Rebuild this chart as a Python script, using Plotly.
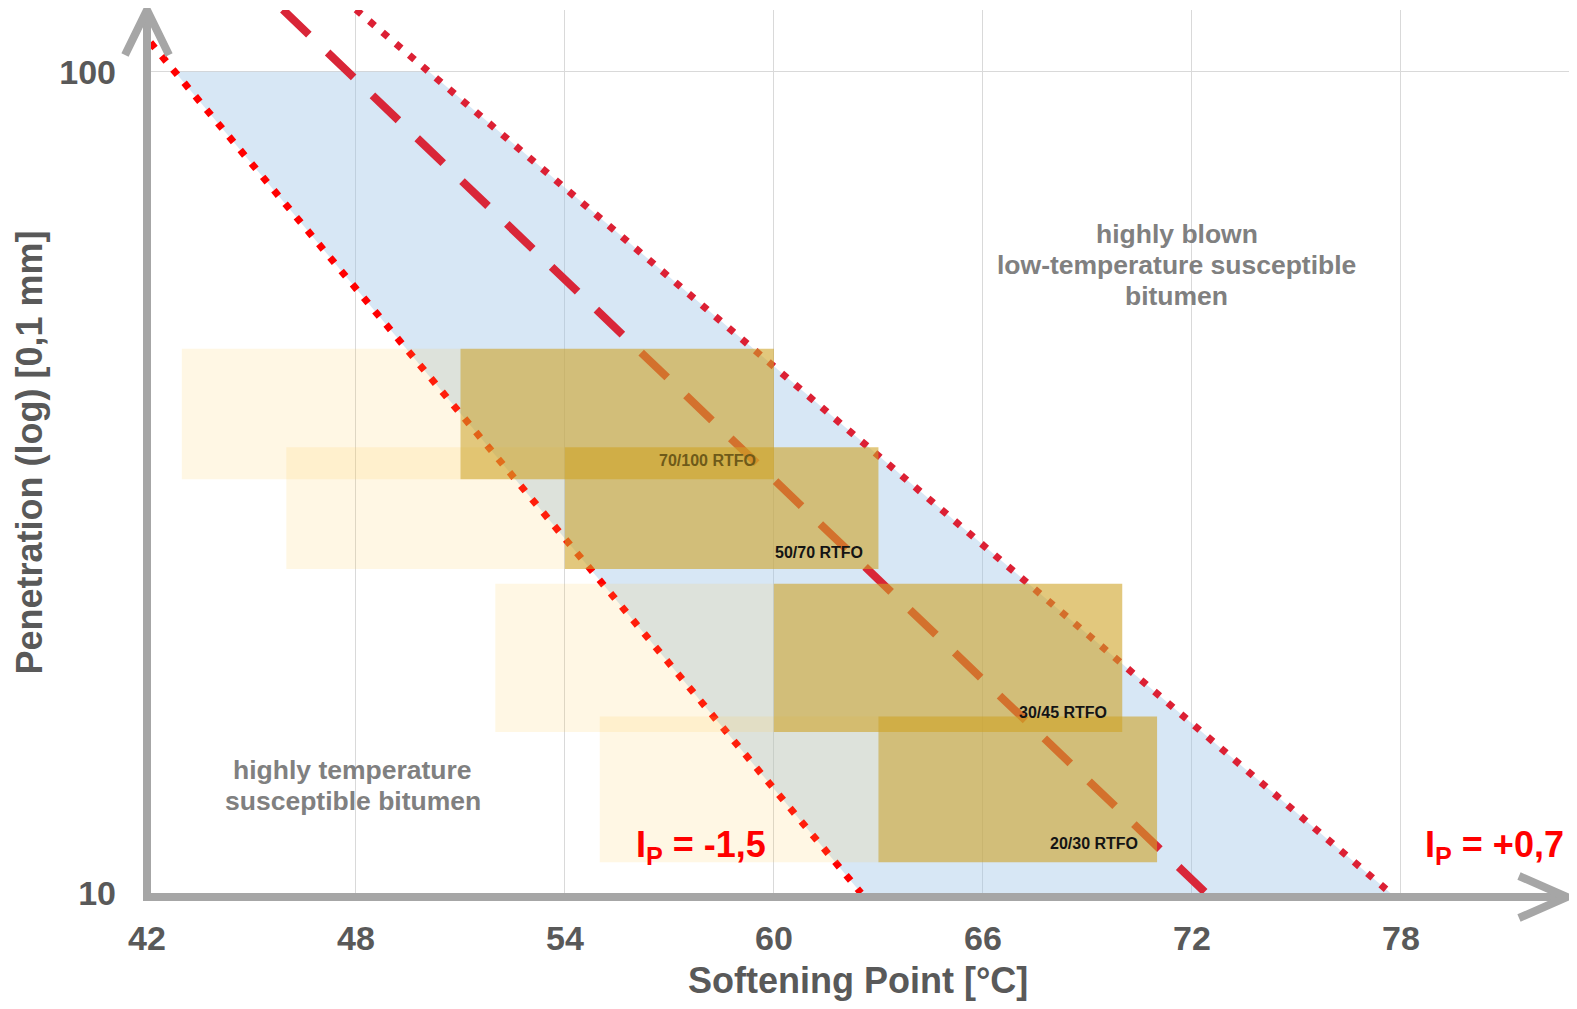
import math
import plotly.graph_objects as go

# ---------------- data ----------------
sp_ticks = [42, 48, 54, 60, 66, 72, 78]
pen_ticks = [10, 100]
pen_ticktext = ["10", "100"]

# penetration index lines (softening point, penetration)
ip_neg_sp = [42.1, 62.5]
ip_neg_pen = [108.5, 10]
ip_pos_sp = [48.0, 77.7]
ip_pos_pen = [119, 10]
mid_sp = [45.9, 72.4]
mid_pen = [119, 10]

# shaded zone between the two IP lines
zone_sp = [42.8, 50.1, 77.7, 62.5]
zone_pen = [100, 100, 10, 10]

# grade boxes
grades = ["70/100 RTFO", "50/70 RTFO", "30/45 RTFO", "20/30 RTFO"]
fresh_sp_min = [43, 46, 52, 55]
fresh_sp_max = [51, 54, 60, 63]
rtfo_sp_min = [51, 54, 60, 63]
rtfo_sp_max = [60, 63, 70, 71]
pen_min = [31.9, 24.8, 15.7, 10.9]
pen_max = [46.0, 34.9, 23.8, 16.4]
label_sp = [58.1, 61.3, 68.3, 69.2]
label_pen = [33.6, 26.0, 16.6, 11.5]
label_colors = ["#6E5A19", "#141414", "#141414", "#141414"]

# region texts
blown_lines = ["highly blown", "low-temperature susceptible", "bitumen"]
blown_sp = 71.57
blown_logpen = [1.802, 1.7646, 1.727]
susc_lines = ["highly temperature", "susceptible bitumen"]
susc_sp = 47.91
susc_logpen = [1.1495, 1.1115]

# ---------------- styles ----------------
FONT = "Arial, Liberation Sans, sans-serif"
GRAY_TXT = "#595959"
AXIS_GRAY = "#A6A6A6"
BLUE = "rgba(155,194,230,0.4)"
PALE = "rgba(255,202,75,0.15)"
GOLD = "rgba(207,163,38,0.6)"


def rect(x0, x1, y0, y1):
    return [x0, x1, x1, x0, x0], [y0, y0, y1, y1, y0]


fig = go.Figure()

# blue zone
fig.add_trace(go.Scatter(x=zone_sp + [zone_sp[0]], y=zone_pen + [zone_pen[0]],
                         fill="toself", fillcolor=BLUE, mode="lines",
                         line=dict(width=0, color=BLUE), hoverinfo="skip"))

# lines
fig.add_trace(go.Scatter(x=ip_neg_sp, y=ip_neg_pen, mode="lines",
                         line=dict(color="#FF0000", width=7, dash="7px,10.5px")))
fig.add_trace(go.Scatter(x=ip_pos_sp, y=ip_pos_pen, mode="lines",
                         line=dict(color="#DC2034", width=7, dash="7px,10.5px")))
fig.add_trace(go.Scatter(x=mid_sp, y=mid_pen, mode="lines",
                         line=dict(color="#D92638", width=8, dash="36px,26px")))

# pale (fresh) boxes
for i in range(4):
    xs, ys = rect(fresh_sp_min[i], fresh_sp_max[i], pen_min[i], pen_max[i])
    fig.add_trace(go.Scatter(x=xs, y=ys, fill="toself", fillcolor=PALE, mode="lines",
                             line=dict(width=0, color=PALE), hoverinfo="skip"))

# gold (RTFO) boxes
for i in range(4):
    xs, ys = rect(rtfo_sp_min[i], rtfo_sp_max[i], pen_min[i], pen_max[i])
    fig.add_trace(go.Scatter(x=xs, y=ys, fill="toself", fillcolor=GOLD, mode="lines",
                             line=dict(width=0, color=GOLD), hoverinfo="skip"))

# figure geometry (page body adds an 8px margin)
FIG_W, FIG_H = 1561, 993
M_L, M_R, M_T, M_B = 139, 0, 2, 108
W_PLOT = FIG_W - M_L - M_R
H_PLOT = FIG_H - M_T - M_B
X_MAX = 42 + W_PLOT / 34.83

# axes with arrows (pixel-sized shapes anchored at the plot origin)
shape_common = dict(type="path", xref="paper", yref="paper", xsizemode="pixel",
                    ysizemode="pixel", xanchor=0, yanchor=0,
                    line=dict(color=AXIS_GRAY, width=8), layer="above")
fig.add_shape(path=f"M 0,{H_PLOT} L 0,-4 L {W_PLOT - 2},-4", **shape_common)
fig.add_shape(path=f"M -22,{H_PLOT-45} L 0,{H_PLOT} L 22,{H_PLOT-45}", **shape_common)
fig.add_shape(path=f"M {W_PLOT-50},17 L {W_PLOT-2},-4 L {W_PLOT-50},-25", **shape_common)

# annotations
ann = []
for i in range(4):
    ann.append(dict(text=grades[i], xref="x", yref="y", x=label_sp[i],
                    y=math.log10(label_pen[i]), xanchor="center", yanchor="middle",
                    showarrow=False,
                    font=dict(family=FONT, size=16, color=label_colors[i], weight=700)))
ann.append(dict(text="Softening Point [°C]", xref="paper", yref="paper", x=0.5,
                y=(893 - 980) / H_PLOT,
                xanchor="center", yanchor="middle", showarrow=False,
                font=dict(family=FONT, size=36, color=GRAY_TXT, weight=700)))
ann.append(dict(text="Penetration (log) [0,1 mm]", xref="paper", yref="paper",
                x=(30 - 147) / W_PLOT, y=(893 - 452.6) / H_PLOT,
                xanchor="center", yanchor="middle", textangle=-90, showarrow=False,
                font=dict(family=FONT, size=36, color=GRAY_TXT, weight=700)))
for t, yv in zip(blown_lines, blown_logpen):
    ann.append(dict(text=t, xref="x", yref="y", x=blown_sp, y=yv,
                    xanchor="center", yanchor="middle", showarrow=False,
                    font=dict(family=FONT, size=26.5, color="#808080", weight=700)))
for t, yv in zip(susc_lines, susc_logpen):
    ann.append(dict(text=t, xref="x", yref="y", x=susc_sp, y=yv,
                    xanchor="center", yanchor="middle", showarrow=False,
                    font=dict(family=FONT, size=26.5, color="#808080", weight=700)))
ann.append(dict(text="I<sub>P</sub> = -1,5", xref="x", yref="y", x=57.92, y=1.056,
                xanchor="center", yanchor="middle", showarrow=False,
                font=dict(family=FONT, size=36, color="#FF0000", weight=700)))
ann.append(dict(text="I<sub>P</sub> = +0,7", xref="x", yref="y", x=80.7, y=1.056,
                xanchor="center", yanchor="middle", showarrow=False,
                font=dict(family=FONT, size=36, color="#FF0000", weight=700)))

fig.update_layout(
    width=FIG_W, height=FIG_H,
    margin=dict(l=M_L, r=M_R, t=M_T, b=M_B, pad=0),
    paper_bgcolor="white", plot_bgcolor="white",
    showlegend=False,
    annotations=ann,
    xaxis=dict(range=[42, X_MAX], tickvals=sp_ticks, showgrid=True, gridcolor="#D9D9D9",
               gridwidth=1, zeroline=False, showline=False, ticks="",
               ticklabelstandoff=22,
               tickfont=dict(family=FONT, size=34, color=GRAY_TXT, weight=700)),
    yaxis=dict(type="log", range=[1, 2.0751], tickvals=pen_ticks, ticktext=pen_ticktext,
               showgrid=True, gridcolor="#D9D9D9", gridwidth=1, zeroline=False,
               showline=False, ticks="", ticklabelstandoff=30,
               tickfont=dict(family=FONT, size=34, color=GRAY_TXT, weight=700)),
)

fig.write_html("out.html")
